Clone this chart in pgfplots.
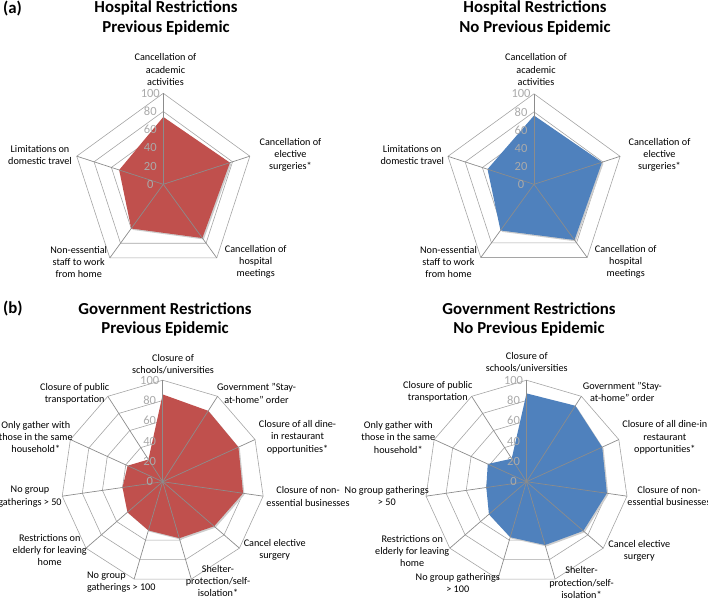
\documentclass[border=0pt]{standalone}
\usepackage{pgfplots}
\pgfplotsset{compat=1.18}
\usepackage{pgfplotstable}
\usepgfplotslibrary{polar}
\usepackage{fontspec}
\setmainfont{Carlito}

\definecolor{redfill}{RGB}{192,80,77}
\definecolor{bluefill}{RGB}{79,129,189}
\definecolor{gridc}{RGB}{165,165,165}
\definecolor{spokec}{RGB}{140,140,140}
\definecolor{shadowc}{RGB}{205,205,205}
\definecolor{tickc}{RGB}{170,170,170}

% Hospital restrictions (5 axes, clockwise from top)
\pgfplotstableread{
a v
90 74
18 77
-54 73
-126 60
-198 51
90 74
}\hospPrev
\pgfplotstableread{
a v
90 76
18 79
-54 76
-126 63
-198 54
90 76
}\hospNoPrev
% Government restrictions (11 axes, clockwise from top)
\pgfplotstableread{
a v
90 86
57.273 83
24.545 82
-8.182 80
-40.909 67
-73.636 58
-106.364 50
-139.091 46
-171.818 40
-204.545 38
-237.273 26
90 86
}\govPrev
\pgfplotstableread{
a v
90 87
57.273 89
24.545 82
-8.182 80
-40.909 74
-73.636 65
-106.364 57
-139.091 49
-171.818 40
-204.545 42
-237.273 27
90 87
}\govNoPrev

\pgfplotsset{
  radarax/.style={scale only axis, hide axis, clip=false,
    xmin=0, xmax=360, ymin=0, ymax=100, anchor=center},
  gridline/.style={draw=gridc, line width=0.6pt, no marks, forget plot},
  spoke/.style={draw=spokec, line width=0.7pt, no marks, forget plot},
}
\tikzset{
  ticklab/.style={anchor=center, xshift=-13pt, text=tickc, inner sep=0pt,
    font=\fontsize{12.5}{12.5}\selectfont},
  cat/.style={align=center, anchor=center, inner sep=0pt,
    font=\fontsize{10.2}{12.3}\selectfont},
  ttl/.style={anchor=base, inner sep=0pt, font=\fontsize{16.8}{20}\selectfont\bfseries},
}

\newcommand{\pentagrid}{%
  \pgfplotsinvokeforeach{20,40,60,80,100}{%
    \addplot[gridline] coordinates {(90,##1)(18,##1)(-54,##1)(-126,##1)(-198,##1)(90,##1)};}%
}
\newcommand{\pentaspokes}{%
  \pgfplotsinvokeforeach{90,18,-54,-126,-198}{%
    \addplot[spoke] coordinates {(##1,0)(##1,100)};}%
}
\newcommand{\elevgrid}{%
  \pgfplotsinvokeforeach{20,40,60,80,100}{%
    \addplot[gridline] coordinates {(90,##1)(57.273,##1)(24.545,##1)(-8.182,##1)(-40.909,##1)(-73.636,##1)(-106.364,##1)(-139.091,##1)(-171.818,##1)(-204.545,##1)(-237.273,##1)(90,##1)};}%
}
\newcommand{\elevspokes}{%
  \pgfplotsinvokeforeach{90,57.273,24.545,-8.182,-40.909,-73.636,-106.364,-139.091,-171.818,-204.545,-237.273}{%
    \addplot[spoke] coordinates {(##1,0)(##1,100)};}%
}
\newcommand{\ticklabels}{%
  \pgfplotsinvokeforeach{0,20,40,60,80,100}{%
    \node[ticklab] at (axis cs:90,##1) {##1};}%
}

\begin{document}
\begin{tikzpicture}
\useasboundingbox (0,0) rectangle (708pt,-598pt);

% ---------- (a) Hospital, previous epidemic ----------
\begin{polaraxis}[radarax, at={(163.3pt,-184.3pt)}, width=182pt, height=182pt]
\pentagrid
\addplot[draw=none, fill=shadowc, no marks, xshift=1.4pt, yshift=-1.4pt, forget plot] table[x=a,y=v]{\hospPrev};
\addplot[draw=none, fill=redfill, no marks] table[x=a,y=v]{\hospPrev};
\pentaspokes
\ticklabels
\end{polaraxis}

% ---------- Hospital, no previous epidemic ----------
\begin{polaraxis}[radarax, at={(534pt,-184.3pt)}, width=181pt, height=181pt]
\pentagrid
\addplot[draw=none, fill=shadowc, no marks, xshift=1.4pt, yshift=-1.4pt, forget plot] table[x=a,y=v]{\hospNoPrev};
\addplot[draw=none, fill=bluefill, no marks] table[x=a,y=v]{\hospNoPrev};
\pentaspokes
\ticklabels
\end{polaraxis}

% ---------- (b) Government, previous epidemic ----------
\begin{polaraxis}[radarax, at={(162.7pt,-481.7pt)}, width=203pt, height=203pt]
\elevgrid
\addplot[draw=none, fill=shadowc, no marks, xshift=1.4pt, yshift=-1.4pt, forget plot] table[x=a,y=v]{\govPrev};
\addplot[draw=none, fill=redfill, no marks] table[x=a,y=v]{\govPrev};
\elevspokes
\ticklabels
\end{polaraxis}

% ---------- Government, no previous epidemic ----------
\begin{polaraxis}[radarax, at={(526.5pt,-481.7pt)}, width=203pt, height=203pt]
\elevgrid
\addplot[draw=none, fill=shadowc, no marks, xshift=1.4pt, yshift=-1.4pt, forget plot] table[x=a,y=v]{\govNoPrev};
\addplot[draw=none, fill=bluefill, no marks] table[x=a,y=v]{\govNoPrev};
\elevspokes
\ticklabels
\end{polaraxis}

% ---------- panel letters and titles ----------
\node[anchor=base west, inner sep=0pt, font=\fontsize{16.8}{20}\selectfont\bfseries] at (3pt,-13.3pt) {(a)};
\node[anchor=base west, inner sep=0pt, font=\fontsize{16.8}{20}\selectfont\bfseries] at (3pt,-313.3pt) {(b)};
\node[ttl] at (166pt,-12.5pt) {Hospital Restrictions};
\node[ttl] at (166pt,-32.3pt) {Previous Epidemic};
\node[ttl] at (535pt,-12.5pt) {Hospital Restrictions};
\node[ttl] at (535pt,-32.3pt) {No Previous Epidemic};
\node[ttl] at (165pt,-314pt) {Government Restrictions};
\node[ttl] at (165pt,-333.3pt) {Previous Epidemic};
\node[ttl] at (529pt,-314pt) {Government Restrictions};
\node[ttl] at (529pt,-333.3pt) {No Previous Epidemic};

% ---------- category labels: hospital ----------
\node[cat] at (165.5pt,-69.7pt) {Cancellation of\\academic\\activities};
\node[cat] at (290.5pt,-155pt) {Cancellation of\\elective\\surgeries*};
\node[cat] at (255.7pt,-262pt) {Cancellation of\\hospital\\meetings};
\node[cat] at (78.7pt,-262pt) {Non-essential\\staff to work\\from home};
\node[cat] at (40pt,-155.2pt) {Limitations on\\domestic travel};

\node[cat] at (536pt,-69.7pt) {Cancellation of\\academic\\activities};
\node[cat] at (659.5pt,-155pt) {Cancellation of\\elective\\surgeries*};
\node[cat] at (625.7pt,-262pt) {Cancellation of\\hospital\\meetings};
\node[cat] at (448.5pt,-262pt) {Non-essential\\staff to work\\from home};
\node[cat] at (412.3pt,-155.2pt) {Limitations on\\domestic travel};

% ---------- category labels: government, previous ----------
\node[cat] at (173pt,-364pt) {Closure of\\schools/universities};
\node[cat] at (256.5pt,-393.5pt) {Government "Stay-\\at-home" order};
\node[cat] at (297.5pt,-437pt) {Closure of all dine-\\in restaurant\\opportunities*};
\node[cat] at (308pt,-496.5pt) {Closure of non-\\essential businesses};
\node[cat] at (274.7pt,-550pt) {Cancel elective\\surgery};
\node[cat] at (218pt,-581pt) {Shelter-\\protection/self-\\isolation*};
\node[cat, align=left] at (121.3pt,-582pt) {No group\\gatherings > 100};
\node[cat] at (49.7pt,-550pt) {Restrictions on\\elderly for leaving\\home};
\node[cat] at (30pt,-496.5pt) {No group\\gatherings > 50};
\node[cat] at (35.8pt,-437pt) {Only gather with\\those in the same\\household*};
\node[cat] at (74.7pt,-393.5pt) {Closure of public\\transportation};

% ---------- category labels: government, no previous ----------
\node[cat] at (526.8pt,-362.5pt) {Closure of\\schools/universities};
\node[cat] at (622.3pt,-391.7pt) {Government "Stay-\\at-home" order};
\node[cat] at (664.8pt,-437.4pt) {Closure of all dine-in\\restaurant\\opportunities*};
\node[cat] at (669pt,-496.2pt) {Closure of non-\\essential businesses};
\node[cat] at (639.3pt,-550.8pt) {Cancel elective\\surgery};
\node[cat] at (581.5pt,-582.6pt) {Shelter-\\protection/self-\\isolation*};
\node[cat] at (457.8pt,-582.8pt) {No group gatherings\\> 100};
\node[cat] at (412.2pt,-550.8pt) {Restrictions on\\elderly for leaving\\home};
\node[cat] at (386.8pt,-496.2pt) {No group gatherings\\> 50};
\node[cat] at (398.3pt,-437.4pt) {Only gather with\\those in the same\\household*};
\node[cat] at (437.8pt,-391.7pt) {Closure of public\\transportation};
\end{tikzpicture}
\end{document}
